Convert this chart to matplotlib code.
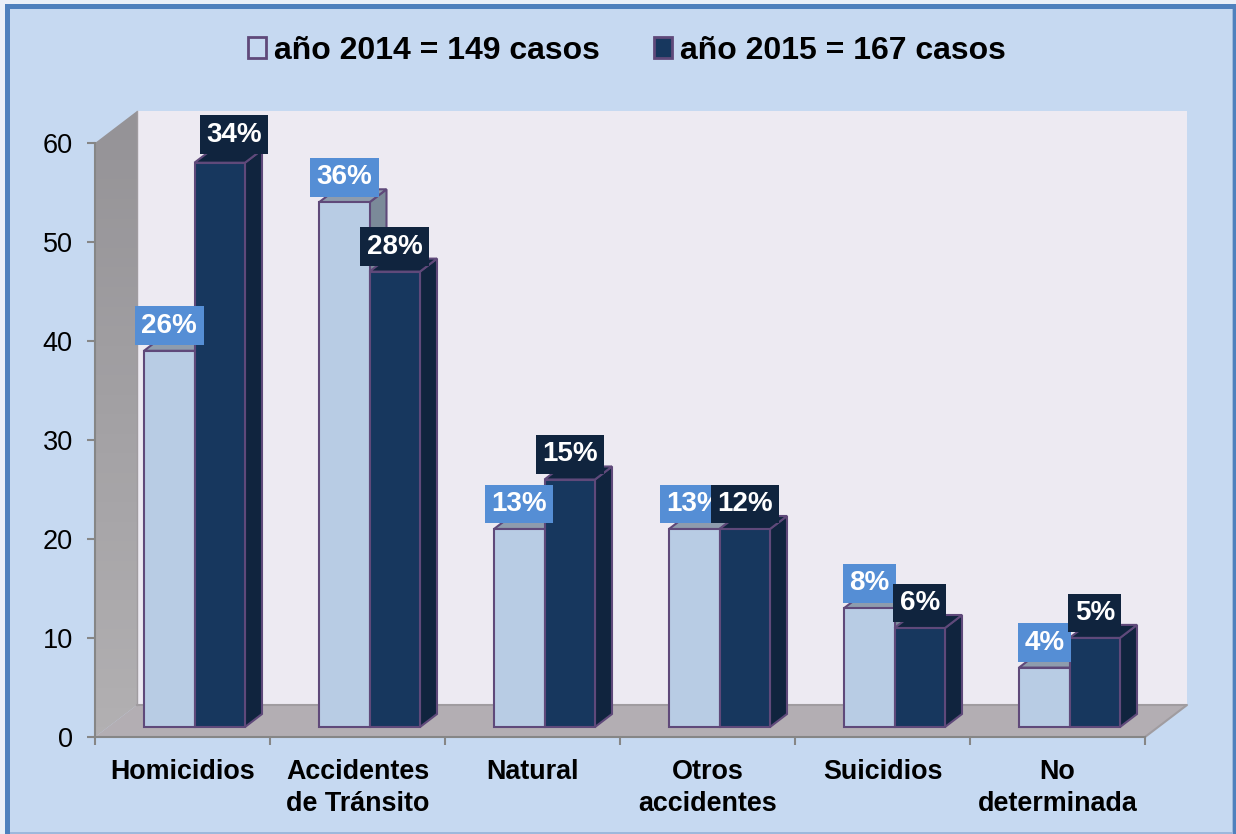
import matplotlib
matplotlib.use('Agg')
import matplotlib.pyplot as plt
import numpy as np
from matplotlib.patches import Polygon, Rectangle

categorias = ['Homicidios', 'Accidentes\nde Tránsito', 'Natural', 'Otros\naccidentes', 'Suicidios', 'No\ndeterminada']
casos_2014 = [38, 53, 20, 20, 12, 6]
casos_2015 = [57, 46, 25, 20, 10, 9]
pct_2014 = ['26%', '36%', '13%', '13%', '8%', '4%']
pct_2015 = ['34%', '28%', '15%', '12%', '6%', '5%']
leyenda = ['año 2014 = 149 casos', 'año 2015 = 167 casos']
ticks_y = [0, 10, 20, 30, 40, 50, 60]

plt.rcParams['font.family'] = ['Liberation Sans', 'DejaVu Sans']

W, H = 1236, 834
FONDO = '#C6D9F1'
BORDE = '#4F81BD'
PARED = '#EDEAF2'
PISO = '#B3AEB3'
EJE = '#868686'
LINEA_BARRA = '#5F497A'

fig = plt.figure(figsize=(W / 100, H / 100), dpi=100, facecolor='#EAF0F8')

# marco azul de la imagen
fig.add_artist(Rectangle((5 / W, 0), (W - 5) / W, (H - 4) / H, transform=fig.transFigure,
                         facecolor=BORDE, edgecolor='none', zorder=-3))
fig.add_artist(Rectangle((10 / W, 0), (W - 13) / W, (H - 9) / H, transform=fig.transFigure,
                         facecolor='#9DB8DC', edgecolor='none', zorder=-2))
fig.add_artist(Rectangle((10 / W, 2 / H), (W - 14) / W, (H - 11) / H, transform=fig.transFigure,
                         facecolor=FONDO, edgecolor='none', zorder=-1))

ax = fig.add_axes([95 / W, 1 - 737 / H, 1050 / W, 594 / H])
ax.patch.set_alpha(0)

# profundidad de la caja y de las barras, en unidades de datos
px_x = 6 / 1050
px_y = 60 / 594
caja_dx, caja_dy = 42 * px_x, 32 * px_y
barra_dx, barra_dy = 17 * px_x, 13 * px_y
ancho = 50.5 * px_x
inicio = 49 * px_x
base = 10 * px_y


def poli(puntos, color, borde='none', z=1):
    p = Polygon(puntos, closed=True, facecolor=color, edgecolor=borde, linewidth=1.5,
                zorder=z, clip_on=False, joinstyle='miter')
    ax.add_patch(p)
    return p


# paredes y piso
poli([(caja_dx, caja_dy), (6 + caja_dx, caja_dy), (6 + caja_dx, 60 + caja_dy), (caja_dx, 60 + caja_dy)], PARED)
pared_izq = poli([(0, 0), (caja_dx, caja_dy), (caja_dx, 60 + caja_dy), (0, 60)], 'none')
degradado = ax.imshow(np.linspace(0, 1, 64).reshape(-1, 1), extent=(0, caja_dx, 0, 60 + caja_dy), origin='upper',
                      aspect='auto', cmap=matplotlib.colors.LinearSegmentedColormap.from_list('p', ['#959397', '#B2B0B2']),
                      zorder=0.9)
# la pared sobresale de los ejes por arriba
degradado.set_clip_box(fig.bbox)
degradado.set_clip_path(pared_izq)
poli([(0, 0), (caja_dx, caja_dy), (6 + caja_dx, caja_dy), (6, 0)], PISO)
ax.plot([caja_dx, 6 + caja_dx, 6], [caja_dy, caja_dy, 0], color='#A09CA0', lw=1.5, zorder=1.5, clip_on=False)
ax.plot([caja_dx, caja_dx], [caja_dy, 60 + caja_dy], color='#A09CA0', lw=1, zorder=1.5, clip_on=False)
ax.set_xlim(0, 6)
ax.set_ylim(0, 60)


def barra(x, valor, frente, tapa, lado, z):
    y = base + valor
    x2 = x + ancho
    poli([(x2, base), (x2 + barra_dx, base + barra_dy), (x2 + barra_dx, y + barra_dy), (x2, y)], lado, LINEA_BARRA, z)
    poli([(x, y), (x + barra_dx, y + barra_dy), (x2 + barra_dx, y + barra_dy), (x2, y)], tapa, LINEA_BARRA, z)
    ax.bar(x, valor, width=ancho, bottom=base, align='edge', color=frente, edgecolor=LINEA_BARRA,
           linewidth=1.5, zorder=z + 0.1, clip_on=False)


def etiqueta(x, valor, texto, color, z, mueve_x=0, mueve_y=0):
    ax.annotate(texto, (x + ancho / 2, base + valor), xytext=((mueve_x) * 0.72, (25 + mueve_y) * 0.72),
                textcoords='offset points', ha='center', va='center', color='white', fontsize=20,
                fontweight='bold', zorder=z, annotation_clip=False,
                bbox=dict(boxstyle='square,pad=0.23', facecolor=color, edgecolor='none'))


for i in range(len(categorias)):
    x1 = i + inicio
    x2 = x1 + ancho
    barra(x1, casos_2014[i], '#B8CCE4', '#8E9CAD', '#7B8A99', 3 + i)
    barra(x2, casos_2015[i], '#17375E', '#10243E', '#10243E', 3.3 + i)

for i in range(len(categorias)):
    x1 = i + inicio
    x2 = x1 + ancho
    etiqueta(x1, casos_2014[i], pct_2014[i], '#558ED5', 20 + i)
    if i == 0:
        # esta etiqueta va corrida en el original
        etiqueta(x2, casos_2015[i], pct_2015[i], '#10243E', 20.5 + i, 14, 3)
    else:
        etiqueta(x2, casos_2015[i], pct_2015[i], '#10243E', 20.5 + i)

# ejes
for lado in ['top', 'right']:
    ax.spines[lado].set_visible(False)
for lado in ['left', 'bottom']:
    ax.spines[lado].set_color(EJE)
    ax.spines[lado].set_linewidth(1.5)
    ax.spines[lado].set_zorder(2)
ax.set_yticks(ticks_y)
ax.tick_params(axis='y', length=6, width=1.5, color=EJE, labelsize=19.5, pad=10, labelcolor='black')
ax.set_xticks(range(7))
ax.set_xticklabels([])
ax.tick_params(axis='x', which='major', length=6, width=1.5, color=EJE)
ax.set_xticks([i + 0.5 for i in range(6)], minor=True)
ax.set_xticklabels(categorias, minor=True, fontsize=19.4, fontweight='bold', linespacing=1.3)
ax.tick_params(axis='x', which='minor', length=0, pad=15.5)

# leyenda arriba
h1 = Rectangle((0, 0), 1, 1, facecolor=FONDO, edgecolor=LINEA_BARRA, linewidth=2)
h2 = Rectangle((0, 0), 1, 1, facecolor='#17375E', edgecolor=LINEA_BARRA, linewidth=2)
fig.legend([h1, h2], leyenda, ncol=2, loc='center', bbox_to_anchor=(627 / W, 1 - 51 / H),
           frameon=False, prop={'size': 23, 'weight': 'bold'}, handlelength=0.55, handleheight=0.65,
           handletextpad=0.25, columnspacing=1.7)

fig.savefig('out.png', dpi=100, facecolor=fig.get_facecolor())
